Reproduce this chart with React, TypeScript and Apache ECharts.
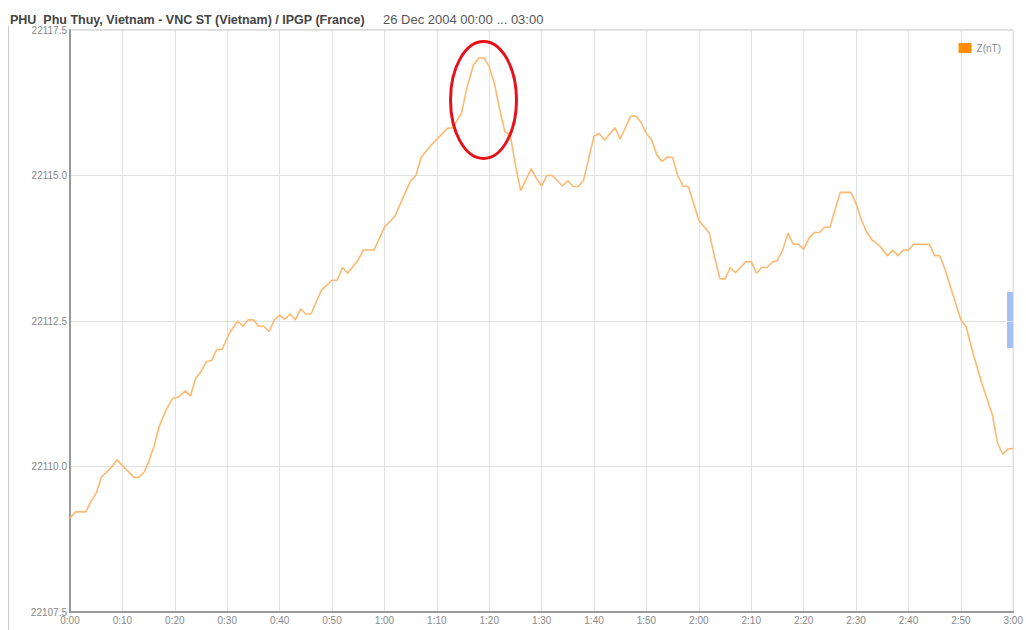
import React, { useEffect, useRef } from "react";
import * as echarts from "echarts";

const titleMain = "PHU  Phu Thuy, Vietnam - VNC ST (Vietnam) / IPGP (France)";
const titleDate = "26 Dec 2004 00:00 ... 03:00";
const seriesName = "Z(nT)";

// minutes after 00:00
const minutes = [
  0, 1, 3, 4, 5, 6, 7.5, 9, 10.7, 12.3, 13, 14.2, 15, 16, 17, 18.3, 19.6, 20.8, 22, 23,
  24, 25, 26, 27, 28, 29, 30.4, 32, 33, 34, 35, 36, 37, 38, 39, 40, 41, 42, 43, 44,
  45, 46, 47, 48, 50, 51, 52, 53, 55, 56, 58, 60, 62, 63.7, 65, 66, 67, 68.8, 70.4, 72,
  73, 74.7, 75.8, 77, 78, 79, 80, 81, 82, 83, 84, 85, 86, 87, 88, 89, 90, 91, 92, 94,
  95, 96, 97, 98, 99, 100, 101, 102, 104, 105, 107, 108, 109, 110, 111, 112, 113, 114, 115, 116,
  117, 118, 120, 122, 123, 124, 125, 126, 127, 129, 130, 131, 132, 133, 134, 135, 136, 137, 138, 139,
  140, 141, 142, 143, 144, 145, 146, 147, 149, 150, 151, 152, 153, 154.5, 156, 157, 158, 159, 160, 161,
  164, 165, 166, 167, 168, 170, 171, 172.3, 174, 176, 177, 178, 179, 180,
];

const zValues = [
  22109.11, 22109.22, 22109.22, 22109.4, 22109.54, 22109.82, 22109.95, 22110.11, 22109.95, 22109.81,
  22109.81, 22109.91, 22110.08, 22110.34, 22110.68, 22110.97, 22111.17, 22111.2, 22111.3, 22111.21,
  22111.52, 22111.63, 22111.8, 22111.82, 22112.01, 22112.01, 22112.29, 22112.5, 22112.41, 22112.52,
  22112.52, 22112.41, 22112.41, 22112.32, 22112.52, 22112.6, 22112.53, 22112.62, 22112.52, 22112.71,
  22112.62, 22112.62, 22112.83, 22113.03, 22113.2, 22113.2, 22113.42, 22113.32, 22113.55, 22113.72,
  22113.72, 22114.11, 22114.3, 22114.65, 22114.91, 22115.0, 22115.31, 22115.51, 22115.66, 22115.81,
  22115.82, 22116.07, 22116.53, 22116.9, 22117.02, 22117.02, 22116.87, 22116.58, 22116.13, 22115.75,
  22115.7, 22115.18, 22114.74, 22114.92, 22115.12, 22114.95, 22114.82, 22115.0, 22115.0, 22114.82,
  22114.91, 22114.81, 22114.81, 22114.92, 22115.3, 22115.68, 22115.72, 22115.61, 22115.82, 22115.63,
  22116.02, 22116.02, 22115.91, 22115.72, 22115.61, 22115.35, 22115.24, 22115.32, 22115.31, 22114.99,
  22114.82, 22114.81, 22114.23, 22114.01, 22113.6, 22113.23, 22113.22, 22113.42, 22113.33, 22113.52,
  22113.52, 22113.32, 22113.42, 22113.42, 22113.51, 22113.54, 22113.72, 22114.01, 22113.82, 22113.82,
  22113.73, 22113.92, 22114.02, 22114.02, 22114.11, 22114.11, 22114.41, 22114.71, 22114.71, 22114.52,
  22114.24, 22114.03, 22113.9, 22113.79, 22113.62, 22113.72, 22113.62, 22113.72, 22113.72, 22113.82,
  22113.82, 22113.62, 22113.62, 22113.38, 22113.09, 22112.52, 22112.4, 22111.95, 22111.43, 22110.89,
  22110.4, 22110.21, 22110.3, 22110.31,
];

const yMin = 22107.5;
const yMax = 22117.5;
const yStep = 2.5;

function fmtTime(m: number): string {
  const h = Math.floor(m / 60);
  const mm = Math.round(m % 60);
  return `${h}:${mm < 10 ? "0" + mm : mm}`;
}

export default function App() {
  const ref = useRef<HTMLDivElement>(null);
  useEffect(() => {
    if (!ref.current) return;
    const chart = echarts.init(ref.current, null, { renderer: "svg" });
    const data = minutes.map((m, i) => [m, zValues[i]]);
    chart.setOption({
      animation: false,
      backgroundColor: "#ffffff",
      textStyle: { fontFamily: "Liberation Sans, Arial, sans-serif" },
      title: {
        text: `{b|${titleMain}}{n|     ${titleDate}}`,
        left: 5,
        top: 8,
        textStyle: {
          fontWeight: "normal",
          rich: {
            b: { fontSize: 12.5, fontWeight: "bold", color: "#444", fontFamily: "Liberation Sans" },
            n: { fontSize: 13, fontWeight: "normal", color: "#555", fontFamily: "Liberation Sans" },
          },
        },
      },
      legend: {
        right: 20,
        top: 38,
        itemWidth: 13,
        itemHeight: 10,
        itemGap: 4,
        icon: "rect",
        textStyle: { color: "#888", fontSize: 10 },
        data: [{ name: seriesName, itemStyle: { color: "#ff8c00" } }],
      },
      grid: { left: 70, right: 12, top: 30, bottom: 18, show: true, borderColor: "#bbb", borderWidth: 1 },
      xAxis: {
        type: "value",
        min: 0,
        max: 180,
        interval: 10,
        axisLine: { show: true, onZero: false, lineStyle: { color: "#999", width: 2 } },
        axisTick: { show: false },
        axisLabel: { color: "#888", fontSize: 10, margin: 3, formatter: (v: number) => fmtTime(v) },
        splitLine: { show: true, lineStyle: { color: "#e2e2e2" } },
      },
      yAxis: {
        type: "value",
        min: yMin,
        max: yMax,
        interval: yStep,
        axisLine: { show: true, lineStyle: { color: "#999", width: 2 } },
        axisTick: { show: false },
        axisLabel: { color: "#888", fontSize: 10, margin: 3, formatter: (v: number) => v.toFixed(1) },
        splitLine: { show: true, lineStyle: { color: "#e2e2e2" } },
      },
      series: [
        {
          name: seriesName,
          type: "line",
          data,
          showSymbol: false,
          symbol: "none",
          lineStyle: { color: "#ffb870", width: 1.6 },
          itemStyle: { color: "#ff8c00" },
        },
      ],
      graphic: [
        { type: "line", shape: { x1: 8.5, y1: 26, x2: 8.5, y2: 630 }, style: { stroke: "#ccc", lineWidth: 1 } },
        { type: "rect", shape: { x: 1007, y: 292, width: 7, height: 56 }, style: { fill: "#a3c2f3" } },
        {
          type: "ellipse",
          shape: { cx: 483.5, cy: 100, rx: 33, ry: 58.5 },
          style: { fill: "none", stroke: "#e8101a", lineWidth: 3 },
          z: 100,
        },
      ],
    });
    return () => chart.dispose();
  }, []);
  return <div ref={ref} style={{ position: "fixed", left: 0, top: 0, width: 1026, height: 630 }} />;
}
